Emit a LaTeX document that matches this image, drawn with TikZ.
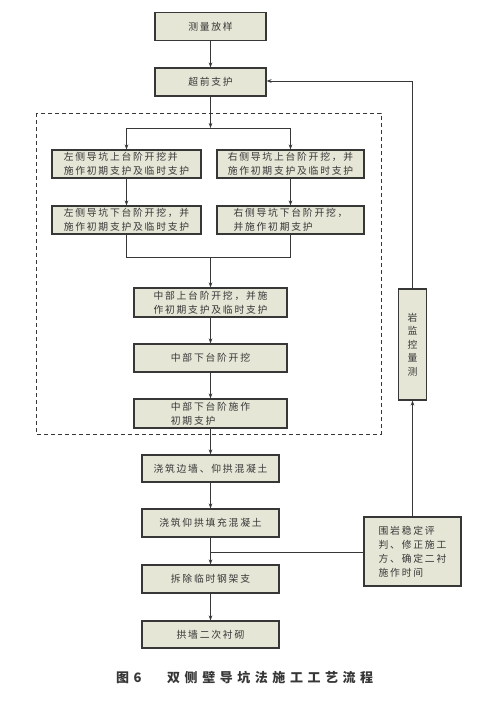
\documentclass[tikz,border=0pt]{standalone}
\usepackage{fontspec}
\usetikzlibrary{arrows.meta}
\newfontfamily\boxfont[LetterSpace=18]{Noto Sans CJK SC}
\newfontfamily\capfont[LetterSpace=35]{Noto Sans CJK SC}
\definecolor{boxfill}{RGB}{229,230,214}
\definecolor{boxline}{RGB}{55,55,55}
\definecolor{txt}{RGB}{55,55,55}
\tikzset{
  x=1pt, y=-1pt,
  procbox/.style={draw=boxline, line width=1.1pt, fill=boxfill, text=txt,
    font=\boxfont\fontsize{9.8}{14}\selectfont, align=left, inner sep=1pt},
  conn/.style={draw=boxline, line width=0.9pt},
  arr/.style={conn, -{Stealth[length=5pt,width=3.6pt]}},
}
\begin{document}
\begin{tikzpicture}
\useasboundingbox (0,0) rectangle (489,701);
% dashed frame
\draw[boxline, line width=0.9pt, dash pattern=on 4pt off 3pt] (36,113) rectangle (381,434);
% boxes
\node[procbox, minimum width=111pt, minimum height=28pt] (b1) at (210.5,26.5) {测量放样};
\node[procbox, minimum width=111pt, minimum height=28pt] (b2) at (210.5,82) {超前支护};
\node[procbox, minimum width=149pt, minimum height=28pt] (L1) at (126.5,164) {左侧导坑上台阶开挖并\\施作初期支护及临时支护};
\node[procbox, minimum width=147pt, minimum height=28pt] (R1) at (290.5,164) {右侧导坑上台阶开挖，并\\施作初期支护及临时支护};
\node[procbox, minimum width=149pt, minimum height=28pt] (L2) at (126.5,220) {左侧导坑下台阶开挖，并\\施作初期支护及临时支护};
\node[procbox, minimum width=147pt, minimum height=28pt] (R2) at (290.5,220) {右侧导坑下台阶开挖，\\并施作初期支护};
\node[procbox, minimum width=153pt, minimum height=29pt] (M1) at (210.5,302.5) {中部上台阶开挖，并施\\作初期支护及临时支护};
\node[procbox, minimum width=153pt, minimum height=28pt] (M2) at (210.5,358) {中部下台阶开挖};
\node[procbox, minimum width=153pt, minimum height=29pt] (M3) at (210.5,413.5) {中部下台阶施作\\初期支护};
\node[procbox, minimum width=137pt, minimum height=27pt] (C1) at (210.5,468.5) {浇筑边墙、仰拱混凝土};
\node[procbox, minimum width=137pt, minimum height=28pt] (C2) at (210.5,523) {浇筑仰拱填充混凝土};
\node[procbox, minimum width=137pt, minimum height=28pt] (C3) at (210.5,579) {拆除临时钢架支};
\node[procbox, minimum width=137pt, minimum height=27pt] (C4) at (210.5,634.5) {拱墙二次衬砌};
\node[procbox, minimum width=97pt, minimum height=69pt] (E) at (412.5,551.5) {围岩稳定评\\判、修正施工\\方、确定二衬\\施作时间};
\node[procbox, align=center, font=\boxfont\fontsize{9.8}{13.5}\selectfont, minimum width=28pt, minimum height=111pt] (Mon) at (412.5,344.5) {岩\\监\\控\\量\\测};
% helper coordinates
\coordinate (s1) at (210.5,128);
\coordinate (sl) at (126.5,128);
\coordinate (sr) at (290.5,128);
\coordinate (jl) at (126.5,257);
\coordinate (jr) at (290.5,257);
\coordinate (jm) at (210.5,257);
\coordinate (ej) at (210.5,552);
\coordinate (mt) at (412.5,81);
% connectors
\draw[arr] (b1) -- (b2);
\draw[arr] (b2) -- (s1);
\draw[conn] (sl) -- (sr);
\draw[arr] (sl) -- (L1);
\draw[arr] (sr) -- (R1);
\draw[arr] (L1) -- (L2);
\draw[arr] (R1) -- (R2);
\draw[conn] (L2.south) -- (jl) -- (jr) -- (R2.south);
\draw[arr] (jm) -- (M1);
\draw[arr] (M1) -- (M2);
\draw[arr] (M2) -- (M3);
\draw[arr] (M3) -- (C1);
\draw[arr] (C1) -- (C2);
\draw[arr] (C2) -- (C3);
\draw[arr] (C3) -- (C4);
\draw[conn] (E.west |- ej) -- (ej);
\draw[arr] (E.north) -- (Mon.south);
\draw[conn] (Mon.north) -- (mt);
\draw[arr] (mt) -- (b2.east |- mt);
% caption
\node[anchor=west, text=txt, font=\capfont\bfseries\fontsize{13}{15}\selectfont, inner sep=0pt] (cap1) at (116,678) {图6};
\node[anchor=west, text=txt, font=\capfont\bfseries\fontsize{13}{15}\selectfont, inner sep=0pt] (cap2) at (167,678) {双侧壁导坑法施工工艺流程};
\end{tikzpicture}
\end{document}
